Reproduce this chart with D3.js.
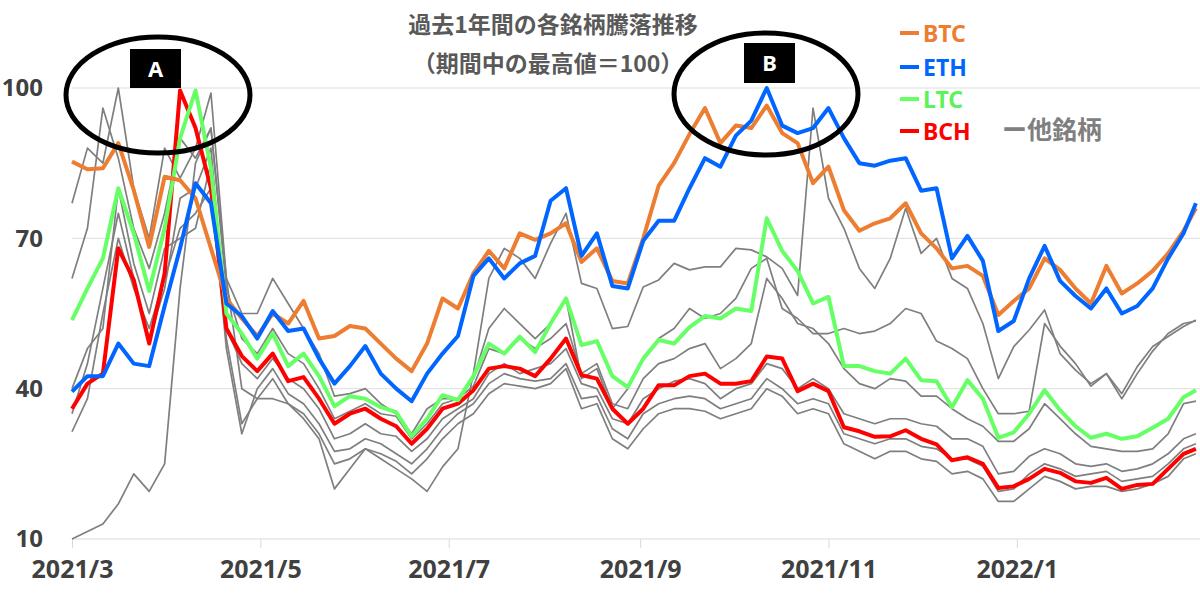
<!DOCTYPE html>
<html>
<head>
<meta charset="utf-8">
<script src="https://cdn.jsdelivr.net/npm/d3@7"></script>
<style>
  body { margin: 0; background: #fff; }
  svg { display: block; font-family: "Noto Sans", "Noto Sans CJK JP", sans-serif; }
</style>
</head>
<body>
<div id="chart"></div>
<script>
'use strict';

// ---- data (every 5 days from 2021/3/1, last point 2022/2/28) ----
const startDate = new Date(2021, 2, 1);
const dayOffsets = d3.range(0, 361, 5).concat([364]);
const dates = dayOffsets.map(d => d3.timeDay.offset(startDate, d));

const btc = [85.3, 83.8, 84, 89, 79.6, 68.3, 82.3, 81.6, 78, 68, 58, 54, 50.5,
  55, 53, 57.5, 50, 50.5, 52.5, 52, 49, 46, 43.5, 49, 58,
  56, 63, 67.5, 64, 71, 69.7, 71, 73, 65.3, 68, 61.5, 61,
  70, 80.5, 85, 90.8, 96, 89, 92.5, 92, 96.5, 91, 89, 81, 84.3,
  75.6, 71.5, 73, 74, 77, 71, 68, 64, 64.5, 62.5, 54.7, 57.5,
  60, 66, 63.7, 60, 57, 64.5, 59, 61, 63.5, 67, 71.5, 76];

const eth = [39.4, 42.5, 42.5, 49, 45, 44.5, 56.5, 68, 81, 77, 57, 54.5, 50,
  55.5, 51.5, 52, 46, 41, 44.5, 48.5, 43, 40, 37.5, 43, 47,
  50.5, 62.5, 66, 62, 65, 66.5, 77.5, 80, 66.5, 71, 60.5, 60,
  69.5, 73.5, 73.5, 80, 86, 84.3, 90.5, 93.5, 100, 92.5, 91, 92, 96,
  90, 85, 84.5, 85.5, 86, 79.5, 80, 66, 70.5, 65.5, 51.5, 53.5,
  62, 68.5, 61.5, 58.5, 56, 60, 55, 56.5, 60, 66, 71, 77];

const ltc = [53.7, 60, 66, 80, 71, 59.5, 72, 90, 99.5, 84, 55, 51, 46,
  51, 44.5, 47, 42.5, 36.5, 38.5, 38, 36.3, 35.3, 30.5, 34, 38.7,
  37.7, 42.5, 49, 47, 50.4, 47.3, 53, 58, 48.7, 49.5, 42.5, 40.3,
  46, 49.7, 49, 52.3, 54.5, 54, 56, 55.5, 74, 67.5, 63.5, 57, 58.3,
  44.5, 44.5, 43.5, 43, 46, 41.7, 41.5, 36.3, 41.7, 38, 30.2, 31.3,
  35, 39.7, 35.7, 32.5, 30.2, 31, 30, 30.5, 32.2, 34, 38.3, 39.7];

const bch = [36, 41, 43, 68, 61.7, 49, 63, 99.5, 92, 80, 52, 46.5, 43.5,
  47, 41.5, 42.3, 38, 33, 35, 36, 34, 32.5, 29, 32, 36,
  37, 39.7, 44, 44.5, 44, 42.5, 46, 50, 42.7, 42, 36, 33,
  36, 40.7, 40.7, 42.5, 43, 41, 41, 41.5, 46.4, 46, 39.5, 41, 39.5,
  32.3, 31.5, 30.4, 30.5, 31.7, 30, 28.9, 25.7, 26.3, 25, 20.2, 20.5,
  22, 24, 23.2, 21.5, 21.2, 22.2, 20, 20.8, 21, 24, 27, 28];

// other coins (gray)
const other1 = [10, 11.5, 13, 17, 23, 19.5, 25, 60, 85, 92, 62, 40, 38,
  38, 37, 34, 30, 20, 24, 28, 26, 24, 22, 19.5, 24.4,
  28, 43, 62, 68, 66, 62, 69, 75, 61, 60, 52, 52.4,
  60.3, 61.7, 65, 63.7, 64.3, 64.3, 68, 67.7, 66.3, 64, 58.6, 96, 78,
  72, 64, 60, 66, 76, 67, 70, 62, 60, 53, 42, 48.4,
  51.7, 55.7, 47, 43.7, 41, 43, 39, 44.4, 48.4, 50.4, 52.4, 53.7];

const other2 = [77, 88, 85, 100, 80, 70, 88, 82, 88, 99, 62, 55, 55,
  62, 57, 52, 47, 38.5, 39, 40, 37, 35, 31, 36, 38,
  38, 42, 52, 56, 53, 50, 53, 58, 42, 44, 36, 40,
  46, 50, 52, 56, 54, 55, 58, 64, 66, 56, 54, 51, 51,
  52, 51, 51.5, 53, 56, 55, 49.5, 48, 46, 40, 35, 35,
  35.5, 53, 48.5, 45, 40.5, 43, 38, 43, 47.5, 51, 53, 53.5];

const other3 = [62, 72, 96, 86, 72, 64, 75, 90, 86, 92, 60, 50, 47,
  52, 47, 45, 40, 34, 35.5, 37, 35, 34.5, 30, 33, 37,
  38, 40.5, 48, 47, 50, 48, 50, 53, 43, 45, 37, 36,
  42, 45, 46, 48, 49, 44, 46, 49, 62, 58, 53, 52, 49,
  44, 41, 40, 42, 41.5, 38.5, 38.5, 36, 34, 32.5, 29.5, 29.5,
  32, 37, 34, 31, 28.5, 28, 27.5, 27.5, 28, 31, 37, 37.5];

const other4 = [35, 45, 60, 75, 62, 50, 60, 78, 80, 88, 52, 45, 42,
  46, 42, 40, 36, 30, 31, 33, 31, 30.5, 27.5, 30, 34,
  36, 38, 43, 45, 43, 44, 45, 48, 41, 40, 34, 33,
  38, 40, 41.5, 42, 41, 38, 40, 41, 45, 44, 40, 42, 40,
  35, 34, 33, 34, 34, 33, 32.5, 30, 30, 28.5, 23, 23.5,
  26.5, 28, 27, 25, 24.5, 25, 23.5, 24, 25, 27, 30, 31];

const other5 = [31.4, 38, 55, 70, 60, 52, 62, 72, 75, 80, 48, 31, 40,
  44, 39, 37, 33, 27.5, 28, 30, 29, 27, 25, 28, 32,
  35, 37, 41, 43, 42, 41.5, 42, 45, 38, 38.5, 32, 30,
  35, 37, 38, 38.5, 38, 36, 37, 38, 42, 40, 37, 38, 37,
  31, 30, 29, 30, 30, 28.5, 28, 26, 26, 24.5, 19.5, 20,
  23, 25, 24, 22.5, 23, 23.5, 21.5, 22, 22.5, 25, 28, 29];

const other6 = [40, 48, 52, 80, 65, 55, 68, 70, 72, 85, 50, 33, 38,
  42, 37, 35, 31, 25, 26, 28, 27, 25.5, 23, 26, 30,
  33, 35, 39, 41, 40.5, 40, 41, 44, 36, 37, 30, 28,
  32, 35, 36, 36, 35.5, 34, 35, 36, 40, 38.5, 35, 36, 35,
  29, 27.5, 26, 27.5, 27.5, 26, 25.5, 23, 23.5, 22, 17.5, 17.5,
  20, 22.5, 21.5, 20, 20.5, 20.5, 19.5, 20, 21, 22.5, 26, 27];

const yTicks = [10, 40, 70, 100];
const xTicks = [new Date(2021, 2, 1), new Date(2021, 4, 1), new Date(2021, 6, 1),
  new Date(2021, 8, 1), new Date(2021, 10, 1), new Date(2022, 0, 1)];

const titleText = '過去1年間の各銘柄騰落推移';
const subtitleText = '（期間中の最高値＝100）';

const others = [other1, other2, other3, other4, other5, other6];
const mainSeries = [
  { name: 'BCH', values: bch, color: '#ff0000' },
  { name: 'LTC', values: ltc, color: '#66ff66' },
  { name: 'BTC', values: btc, color: '#ed7d31' },
  { name: 'ETH', values: eth, color: '#0066ff' }
];
const legendOrder = ['BTC', 'ETH', 'LTC', 'BCH'];

// ---- layout ----
const w = 1200;
const h = 602;

const x = d3.scaleTime()
  .domain([new Date(2021, 2, 1), new Date(2022, 2, 1)])
  .range([72, 1199]);

const y = d3.scaleLinear()
  .domain([10, 100])
  .range([539, 88]);

const svg = d3.select('#chart').append('svg')
  .attr('width', w)
  .attr('height', h);

svg.append('rect')
  .attr('width', w)
  .attr('height', h)
  .attr('fill', '#fff');

// gridlines
svg.append('g')
  .selectAll('line')
  .data(yTicks.slice(1))
  .enter()
  .append('line')
  .attr('x1', 72)
  .attr('x2', w)
  .attr('y1', d => y(d))
  .attr('y2', d => y(d))
  .attr('stroke', '#dedede')
  .attr('stroke-width', 1);

// x axis
const xAxis = svg.append('g')
  .attr('transform', `translate(0,${y(10)})`)
  .call(d3.axisBottom(x)
    .tickValues(xTicks)
    .tickFormat(d3.timeFormat('%Y/%-m'))
    .tickSize(9)
    .tickPadding(12));

xAxis.select('.domain')
  .attr('d', `M72,0H${w}`)
  .attr('stroke', '#d9d9d9');
xAxis.selectAll('.tick line').attr('stroke', '#d9d9d9');
xAxis.selectAll('.tick text')
  .attr('fill', '#404040')
  .attr('font-size', '25px')
  .attr('font-weight', 'bold')
  .attr('font-family', '"Noto Sans", sans-serif');

// y axis
const yAxis = svg.append('g')
  .attr('transform', 'translate(72,0)')
  .call(d3.axisLeft(y)
    .tickValues(yTicks)
    .tickSize(0)
    .tickPadding(29));

yAxis.select('.domain').remove();
yAxis.selectAll('.tick text')
  .attr('fill', '#404040')
  .attr('font-size', '24px')
  .attr('font-weight', 'bold')
  .attr('font-family', '"Noto Sans", sans-serif');

// lines
const line = d3.line()
  .x((d, i) => x(dates[i]))
  .y(d => y(d));

svg.append('g')
  .selectAll('path')
  .data(others)
  .enter()
  .append('path')
  .attr('d', d => line(d))
  .attr('fill', 'none')
  .attr('stroke', '#7f7f7f')
  .attr('stroke-width', 1.7)
  .attr('stroke-linejoin', 'round');

svg.append('g')
  .selectAll('path')
  .data(mainSeries)
  .enter()
  .append('path')
  .attr('d', d => line(d.values))
  .attr('fill', 'none')
  .attr('stroke', d => d.color)
  .attr('stroke-width', 4)
  .attr('stroke-linejoin', 'round');

// title
svg.append('text')
  .text(titleText)
  .attr('x', 553)
  .attr('y', 33)
  .attr('text-anchor', 'middle')
  .attr('font-size', '23px')
  .attr('font-weight', 'bold')
  .attr('font-family', '"Noto Sans CJK JP", sans-serif')
  .attr('fill', '#595959');

svg.append('text')
  .text(subtitleText)
  .attr('x', 548)
  .attr('y', 72)
  .attr('text-anchor', 'middle')
  .attr('font-size', '23px')
  .attr('font-weight', 'bold')
  .attr('font-family', '"Noto Sans CJK JP", sans-serif')
  .attr('fill', '#595959');

// legend
const legendY = [33, 67, 99, 131];
const legend = svg.append('g')
  .selectAll('g')
  .data(legendOrder.map(n => mainSeries.find(s => s.name === n)))
  .enter()
  .append('g')
  .attr('transform', (d, i) => `translate(900,${legendY[i]})`);

legend.append('line')
  .attr('x1', 0)
  .attr('x2', 19)
  .attr('stroke', d => d.color)
  .attr('stroke-width', 4);

legend.append('text')
  .text(d => d.name)
  .attr('x', 23)
  .attr('y', 9)
  .attr('font-size', '23px')
  .attr('font-weight', 'bold')
  .attr('fill', d => d.color === '#66ff66' ? '#5cf25c' : d.color);

svg.append('text')
  .text('ー他銘柄')
  .attr('x', 1002)
  .attr('y', 139)
  .attr('font-size', '25px')
  .attr('font-weight', 'bold')
  .attr('font-family', '"Noto Sans CJK JP", sans-serif')
  .attr('fill', '#7f7f7f');

// highlight ellipses
const marks = [
  { label: 'A', cx: 158, cy: 95, rx: 92, ry: 58, bx: 130, by: 49, bw: 51, bh: 39 },
  { label: 'B', cx: 766, cy: 94, rx: 92, ry: 61, bx: 744, by: 43, bw: 51, bh: 40 }
];

const mark = svg.append('g')
  .selectAll('g')
  .data(marks)
  .enter()
  .append('g');

mark.append('ellipse')
  .attr('cx', d => d.cx)
  .attr('cy', d => d.cy)
  .attr('rx', d => d.rx)
  .attr('ry', d => d.ry)
  .attr('fill', 'none')
  .attr('stroke', '#000')
  .attr('stroke-width', 5);

mark.append('rect')
  .attr('x', d => d.bx)
  .attr('y', d => d.by)
  .attr('width', d => d.bw)
  .attr('height', d => d.bh)
  .attr('fill', '#000');

mark.append('text')
  .text(d => d.label)
  .attr('x', d => d.bx + d.bw / 2)
  .attr('y', d => d.by + d.bh / 2 + 8)
  .attr('text-anchor', 'middle')
  .attr('font-size', '22px')
  .attr('font-weight', 'bold')
  .attr('fill', '#fff');
</script>
</body>
</html>
